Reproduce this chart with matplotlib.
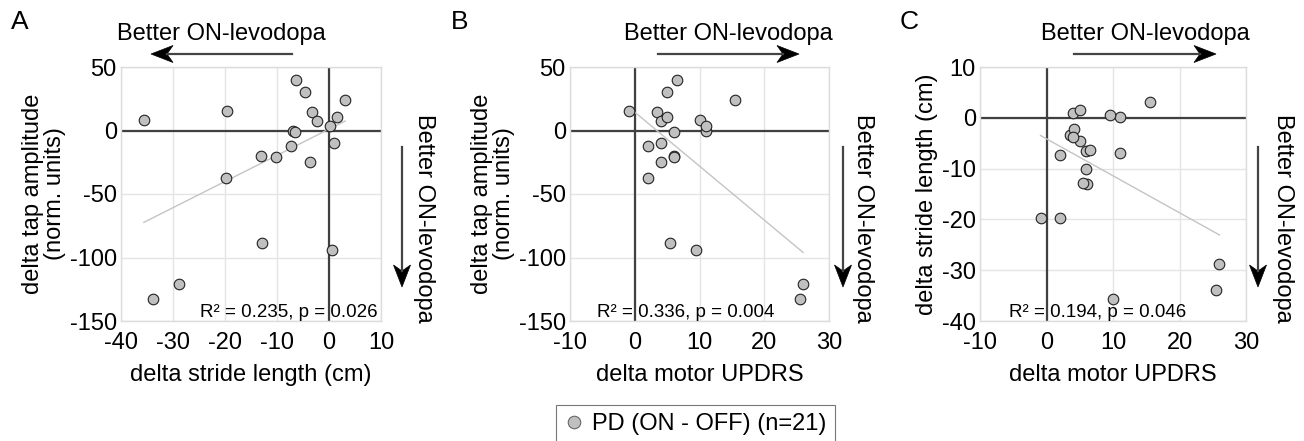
import numpy as np
import matplotlib
matplotlib.use("Agg")
import matplotlib.pyplot as plt
from matplotlib.patches import Polygon
from matplotlib.lines import Line2D

plt.rcParams['font.family'] = ['Liberation Sans', 'DejaVu Sans']
plt.rcParams['axes.unicode_minus'] = False

# ─── Data: one entry per PD subject (ON - OFF) ───────────────────────────────
updrs = [10.0, 25.5, 26.0, -0.9, 2.0, 6.1, 5.5, 6.0, 2.0, 11.0, 6.0,
         6.6, 5.0, 3.5, 4.1, 4.0, 11.0, 4.0, 9.5, 5.0, 15.5]
stride = [-35.6, -33.9, -28.8, -19.7, -19.8, -13.0, -12.8, -10.1, -7.4, -7.0, -6.5,
          -6.3, -4.6, -3.3, -2.3, -3.7, 0.1, 0.9, 0.5, 1.5, 3.1]
tap = [8.4, -132.4, -121.0, 15.3, -37.6, -20.0, -88.4, -20.5, -12.1, 0.0, -1.3,
       39.7, 30.5, 14.2, 7.4, -25.0, 3.7, -9.5, -94.2, 11.0, 24.0]

panel_letters = ['A', 'B', 'C']
stats_text = ['R² = 0.235, p = 0.026', 'R² = 0.336, p = 0.004', 'R² = 0.194, p = 0.046']
x_labels = ['delta stride length (cm)', 'delta motor UPDRS', 'delta motor UPDRS']
y_labels = ['delta tap amplitude\n(norm. units)', 'delta tap amplitude\n(norm. units)',
            'delta stride length (cm)']
x_ticks = [[-40, -30, -20, -10, 0, 10], [-10, 0, 10, 20, 30], [-10, 0, 10, 20, 30]]
y_ticks = [[-150, -100, -50, 0, 50], [-150, -100, -50, 0, 50], [-40, -30, -20, -10, 0, 10]]
legend_label = 'PD (ON - OFF) (n=21)'

W, H = 1304, 441
fig = plt.figure(figsize=(W / 100, H / 100), dpi=100)


def fx(x):
    return x / W


def fy(y):
    return 1 - y / H


def draw_arrow(x0, y0, x1, y1, head_len=22, head_w=8.5, notch=6):
    """Shaft + notched (stealth-like) arrowhead, in figure pixel coords."""
    d = np.array([x1 - x0, y1 - y0], float)
    d /= np.hypot(*d)
    n = np.array([-d[1], d[0]])
    tip = np.array([x1, y1], float)
    back = tip - d * head_len
    shaft_end = back + d * notch
    fig.add_artist(Line2D([fx(x0), fx(shaft_end[0])], [fy(y0), fy(shaft_end[1])],
                          transform=fig.transFigure, color='#444444', lw=1.6))
    pts = [tip, back + n * head_w, back + d * notch, back - n * head_w]
    pts = [(fx(p[0]), fy(p[1])) for p in pts]
    fig.add_artist(Polygon(pts, closed=True, transform=fig.transFigure,
                           facecolor='black', edgecolor='black', lw=0.5))


# axes boxes in pixels: left, right, top, bottom
boxes = [(121, 381, 67, 321), (570, 829, 67, 321), (980, 1246, 67, 321)]
xs = [stride, updrs, updrs]
ys = [tap, tap, stride]
stat_x = [289, 686, 1098]
# horizontal arrows: text centre x, arrow start x, arrow end x
harrow = [(221, 292, 151), (728, 658, 799), (1145, 1074, 1216)]
varrow_x = [402, 843, 1258]
vtext_x = [424, 863, 1283]
letter_x = [20, 460, 909]

FS = 17
for i in range(3):
    l, r, t, b = boxes[i]
    ax = fig.add_axes([fx(l), fy(b), fx(r - l), (b - t) / H])
    x = np.array(xs[i])
    y = np.array(ys[i])

    ax.set_xlim(x_ticks[i][0], x_ticks[i][-1])
    ax.set_ylim(y_ticks[i][0], y_ticks[i][-1])
    ax.set_xticks(x_ticks[i])
    ax.set_yticks(y_ticks[i])
    ax.grid(True, color='#e4e4e4', lw=1)
    ax.set_axisbelow(True)
    for sp in ax.spines.values():
        sp.set_color('#dcdcdc')
        sp.set_linewidth(1)
    ax.tick_params(length=0, labelsize=FS)
    ax.tick_params(axis='x', pad=8)
    ax.tick_params(axis='y', pad=3)

    ax.axhline(0, color='#404040', lw=1.6, zorder=2)
    ax.axvline(0, color='#404040', lw=1.6, zorder=2)

    # least-squares fit over the data range
    slope, icpt = np.polyfit(x, y, 1)
    xx = np.array([x.min(), x.max()])
    ax.plot(xx, slope * xx + icpt, color='#c4c4c4', lw=1, zorder=3)

    ax.scatter(x, y, s=58, facecolor='#c0c0c0', edgecolor='#222222',
               linewidth=0.8, zorder=4)

    ax.set_xlabel(x_labels[i], fontsize=FS, labelpad=7)
    ax.set_ylabel(y_labels[i], fontsize=FS, labelpad=3, linespacing=0.95)

    fig.text(fx(stat_x[i]), fy(321), stats_text[i], fontsize=13.5,
             ha='center', va='bottom')

    # "Better ON-levodopa" arrows
    tx, a0, a1 = harrow[i]
    fig.text(fx(tx), fy(34), 'Better ON-levodopa', fontsize=FS,
             ha='center', va='center')
    draw_arrow(a0, 54, a1, 54)
    draw_arrow(varrow_x[i], 147, varrow_x[i], 287)
    fig.text(fx(vtext_x[i]), fy(218), 'Better ON-levodopa', fontsize=FS,
             ha='center', va='center', rotation=-90)

    fig.text(fx(letter_x[i]), fy(22), panel_letters[i], fontsize=19,
             ha='center', va='center')

handle = Line2D([], [], ls='none', marker='o', markersize=9,
                markerfacecolor='#c0c0c0', markeredgecolor='#666666', markeredgewidth=0.8)
leg = fig.legend([handle], [legend_label], loc='upper center',
                 bbox_to_anchor=(fx(695.5), fy(405)), fontsize=FS,
                 frameon=True, fancybox=False, edgecolor='#555555',
                 handlelength=0.8, handletextpad=0.4, borderaxespad=0,
                 borderpad=0.35)
leg.get_frame().set_linewidth(0.8)

fig.savefig('out.png', dpi=100)
